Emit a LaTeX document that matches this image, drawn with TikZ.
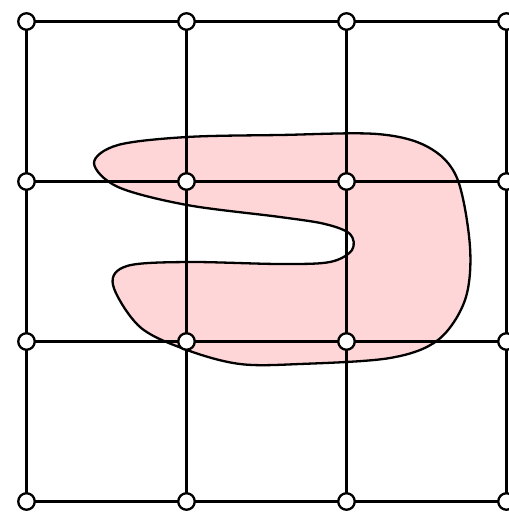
\documentclass[tikz,border=0pt]{standalone}
\definecolor{blobfill}{RGB}{255,214,216}
\begin{document}
\begin{tikzpicture}[x=1pt,y=-1pt,
  gridline/.style={line width=2.5pt,black},
  vtx/.style={circle,draw=black,fill=white,line width=2.3pt,minimum size=16.5pt,inner sep=0pt},
  blob/.style={fill=blobfill,draw=black,line width=2.3pt}]
\useasboundingbox (0,0) rectangle (508,513);
\draw[blob] plot[smooth cycle,tension=0.55] coordinates {
 (94,163) (118,145) (187,137) (280,135) (377,134) (428,147) (457,178)
 (470,247) (465,300) (438,340) (390,358) (300,364) (240,364) (187,350)
 (140,327) (113,285) (127,266) (187,262) (280,264) (330,262) (352,250)
 (350,234) (325,224) (280,217) (187,205) (118,187)};
\foreach \i/\x in {0/26.5,1/186.5,2/346.5,3/506.5}{
  \foreach \j/\y in {0/21.5,1/181.5,2/341.5,3/501.5}{
    \coordinate (p\i\j) at (\x,\y);
  }
}
\foreach \i in {0,1,2,3}{
  \draw[gridline] (p\i0) -- (p\i3);
  \draw[gridline] (p0\i) -- (p3\i);
}
\foreach \i in {0,1,2,3}{
  \foreach \j in {0,1,2,3}{
    \node[vtx] (n\i\j) at (p\i\j) {};
  }
}
\end{tikzpicture}
\end{document}
